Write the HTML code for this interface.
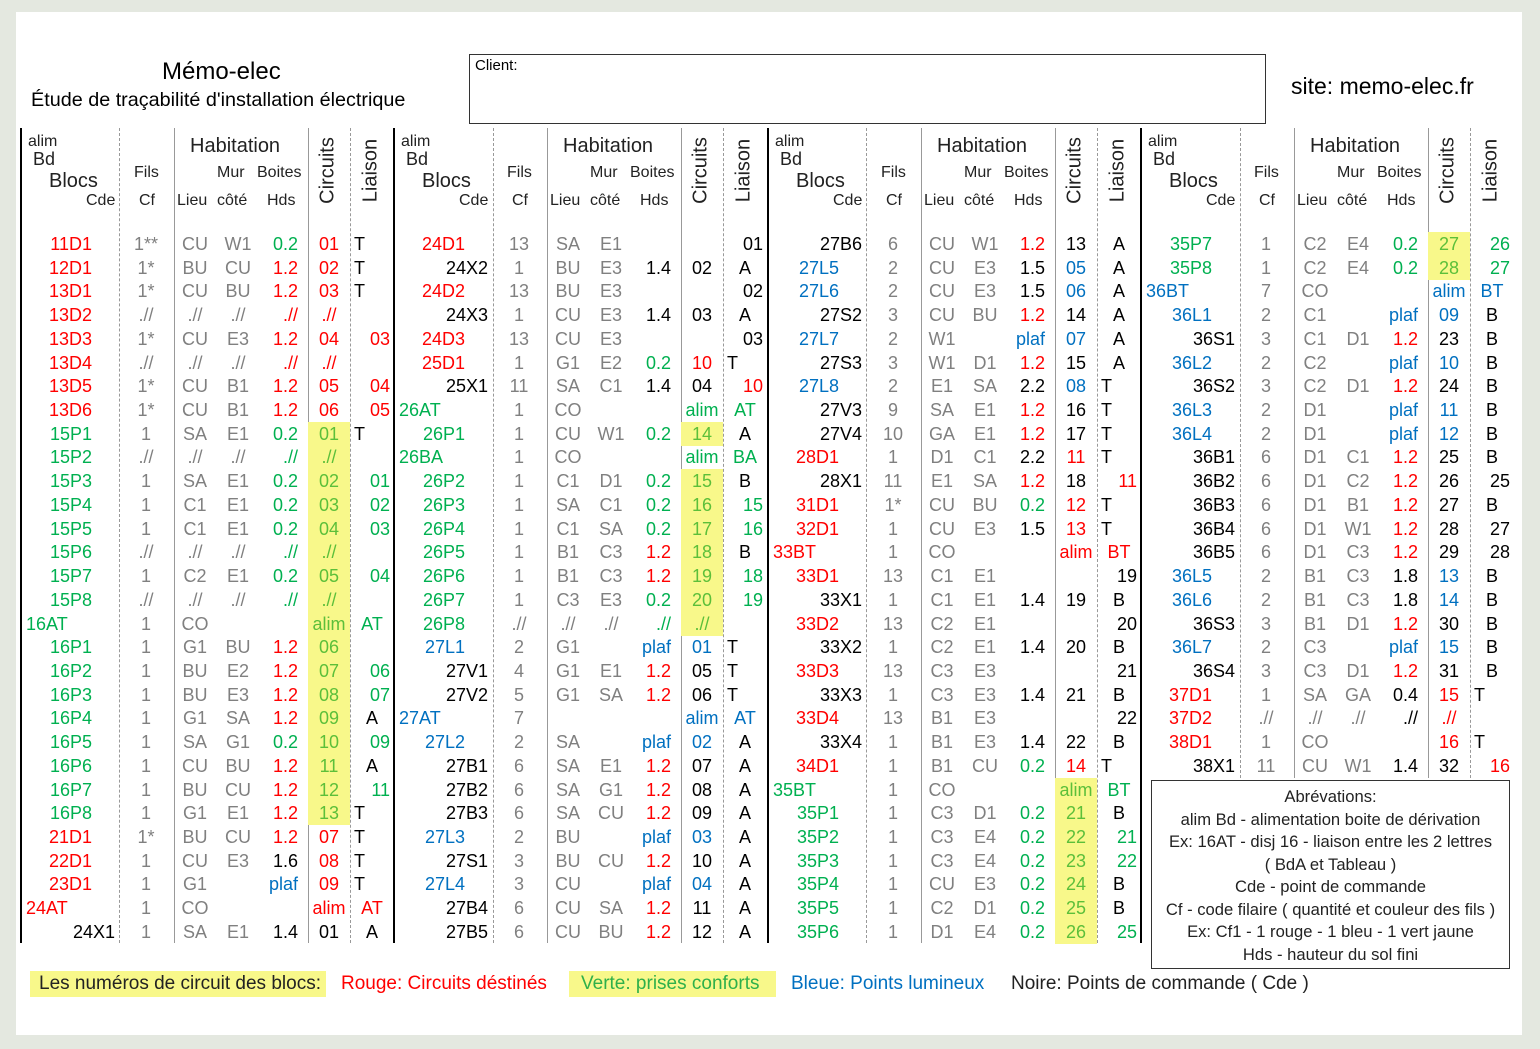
<!DOCTYPE html>
<html><head><meta charset="utf-8"><style>
*{margin:0;padding:0;box-sizing:border-box}
body{width:1540px;height:1049px;background:#e4e8e0;position:relative;overflow:hidden;font-family:"Liberation Sans",sans-serif;color:#000}
#pg{position:absolute;left:16px;top:12px;width:1506px;height:1023px;background:#fff}
.a{position:absolute;white-space:nowrap}
.vl{position:absolute;top:128px;height:815px;width:0}
.tk{border-left:2px solid #000}
.gs{border-left:1px solid #999}
.gd{border-left:1px dashed #999}
.grp{position:absolute;top:232px;width:373px}
.w{position:relative;height:23.72px;font-size:18px;line-height:24px}
.w i{font-style:normal;position:absolute;top:0;white-space:nowrap}
.b{left:0;width:95px;text-align:right}
.b.R,.b.G,.b.B{width:72px}
.bl{left:6px}
.f{left:106px;width:40px;text-align:center;color:#808080}
.l{left:155px;width:40px;text-align:center;color:#808080}
.m{left:198px;width:40px;text-align:center;color:#808080}
.h{left:238px;width:40px;text-align:right}
.c{left:288px;width:42px;text-align:center;height:24px}
.tl{left:334px}
.ta{left:340px;width:24px;text-align:center}
.tr{left:326px;width:44px;text-align:right}
.R{color:#ff0000}.G{color:#00b050}.B{color:#0070c0}
.y{background:#f8f88a}
.y.G{color:#5cbf3a}
.hd{position:absolute;white-space:nowrap;color:#222}
.rot{position:absolute;transform:rotate(-90deg);transform-origin:center;white-space:nowrap;font-size:20px;color:#222;width:80px;text-align:center}
</style></head><body>
<div id="pg"></div>
<div class="a" style="left:162px;top:58px;font-size:24px">Mémo-elec</div>
<div class="a" style="left:31px;top:89px;font-size:19.8px">Étude de traçabilité d'installation électrique</div>
<div class="a" style="left:469px;top:54px;width:797px;height:70px;border:1.5px solid #333"></div>
<div class="a" style="left:475px;top:57px;font-size:15px">Client:</div>
<div class="a" style="left:1291px;top:73px;font-size:23px">site: memo-elec.fr</div>

<div class="vl tk" style="left:20px"></div><div class="vl gd" style="left:119px"></div><div class="vl gs" style="left:174px"></div><div class="vl gs" style="left:308px"></div><div class="vl gd" style="left:350px"></div>
<div class="vl tk" style="left:393px"></div><div class="vl gd" style="left:493px"></div><div class="vl gs" style="left:547px"></div><div class="vl gs" style="left:681px"></div><div class="vl gd" style="left:723px"></div>
<div class="vl tk" style="left:767px"></div><div class="vl gd" style="left:866px"></div><div class="vl gs" style="left:921px"></div><div class="vl gs" style="left:1055px"></div><div class="vl gd" style="left:1097px"></div>
<div class="vl tk" style="left:1140px"></div><div class="vl gd" style="left:1240px;height:650px"></div><div class="vl gs" style="left:1294px;height:650px"></div><div class="vl gs" style="left:1428px;height:650px"></div><div class="vl gd" style="left:1470px;height:650px"></div>

<div style="position:absolute;left:20px;top:0">
<div class="hd" style="left:8px;top:133px;font-size:16px">alim</div><div class="hd" style="left:13px;top:149px;font-size:18px">Bd</div><div class="hd" style="left:29px;top:170px;font-size:20px">Blocs</div><div class="hd" style="left:66px;top:192px;font-size:16px">Cde</div>
<div class="hd" style="left:114px;top:164px;font-size:16px">Fils</div><div class="hd" style="left:119px;top:192px;font-size:16px">Cf</div>
<div class="hd" style="left:170px;top:135px;font-size:20px">Habitation</div>
<div class="hd" style="left:197px;top:164px;font-size:16px">Mur</div><div class="hd" style="left:237px;top:164px;font-size:16px">Boites</div>
<div class="hd" style="left:157px;top:192px;font-size:16px">Lieu</div><div class="hd" style="left:197px;top:192px;font-size:16px">côté</div><div class="hd" style="left:247px;top:192px;font-size:16px">Hds</div>
<div class="rot" style="left:268px;top:159px">Circuits</div><div class="rot" style="left:311px;top:159px">Liaison</div>
</div>
<div style="position:absolute;left:393px;top:0">
<div class="hd" style="left:8px;top:133px;font-size:16px">alim</div><div class="hd" style="left:13px;top:149px;font-size:18px">Bd</div><div class="hd" style="left:29px;top:170px;font-size:20px">Blocs</div><div class="hd" style="left:66px;top:192px;font-size:16px">Cde</div>
<div class="hd" style="left:114px;top:164px;font-size:16px">Fils</div><div class="hd" style="left:119px;top:192px;font-size:16px">Cf</div>
<div class="hd" style="left:170px;top:135px;font-size:20px">Habitation</div>
<div class="hd" style="left:197px;top:164px;font-size:16px">Mur</div><div class="hd" style="left:237px;top:164px;font-size:16px">Boites</div>
<div class="hd" style="left:157px;top:192px;font-size:16px">Lieu</div><div class="hd" style="left:197px;top:192px;font-size:16px">côté</div><div class="hd" style="left:247px;top:192px;font-size:16px">Hds</div>
<div class="rot" style="left:268px;top:159px">Circuits</div><div class="rot" style="left:311px;top:159px">Liaison</div>
</div>
<div style="position:absolute;left:767px;top:0">
<div class="hd" style="left:8px;top:133px;font-size:16px">alim</div><div class="hd" style="left:13px;top:149px;font-size:18px">Bd</div><div class="hd" style="left:29px;top:170px;font-size:20px">Blocs</div><div class="hd" style="left:66px;top:192px;font-size:16px">Cde</div>
<div class="hd" style="left:114px;top:164px;font-size:16px">Fils</div><div class="hd" style="left:119px;top:192px;font-size:16px">Cf</div>
<div class="hd" style="left:170px;top:135px;font-size:20px">Habitation</div>
<div class="hd" style="left:197px;top:164px;font-size:16px">Mur</div><div class="hd" style="left:237px;top:164px;font-size:16px">Boites</div>
<div class="hd" style="left:157px;top:192px;font-size:16px">Lieu</div><div class="hd" style="left:197px;top:192px;font-size:16px">côté</div><div class="hd" style="left:247px;top:192px;font-size:16px">Hds</div>
<div class="rot" style="left:268px;top:159px">Circuits</div><div class="rot" style="left:311px;top:159px">Liaison</div>
</div>
<div style="position:absolute;left:1140px;top:0">
<div class="hd" style="left:8px;top:133px;font-size:16px">alim</div><div class="hd" style="left:13px;top:149px;font-size:18px">Bd</div><div class="hd" style="left:29px;top:170px;font-size:20px">Blocs</div><div class="hd" style="left:66px;top:192px;font-size:16px">Cde</div>
<div class="hd" style="left:114px;top:164px;font-size:16px">Fils</div><div class="hd" style="left:119px;top:192px;font-size:16px">Cf</div>
<div class="hd" style="left:170px;top:135px;font-size:20px">Habitation</div>
<div class="hd" style="left:197px;top:164px;font-size:16px">Mur</div><div class="hd" style="left:237px;top:164px;font-size:16px">Boites</div>
<div class="hd" style="left:157px;top:192px;font-size:16px">Lieu</div><div class="hd" style="left:197px;top:192px;font-size:16px">côté</div><div class="hd" style="left:247px;top:192px;font-size:16px">Hds</div>
<div class="rot" style="left:268px;top:159px">Circuits</div><div class="rot" style="left:311px;top:159px">Liaison</div>
</div>

<div class="grp" style="left:20px">
<div class="w"><i class="b R">11D1</i><i class="f">1**</i><i class="l">CU</i><i class="m">W1</i><i class="h G">0.2</i><i class="c R">01</i><i class="tl">T</i></div>
<div class="w"><i class="b R">12D1</i><i class="f">1*</i><i class="l">BU</i><i class="m">CU</i><i class="h R">1.2</i><i class="c R">02</i><i class="tl">T</i></div>
<div class="w"><i class="b R">13D1</i><i class="f">1*</i><i class="l">CU</i><i class="m">BU</i><i class="h R">1.2</i><i class="c R">03</i><i class="tl">T</i></div>
<div class="w"><i class="b R">13D2</i><i class="f">.//</i><i class="l">.//</i><i class="m">.//</i><i class="h R">.//</i><i class="c R">.//</i></div>
<div class="w"><i class="b R">13D3</i><i class="f">1*</i><i class="l">CU</i><i class="m">E3</i><i class="h R">1.2</i><i class="c R">04</i><i class="tr R">03</i></div>
<div class="w"><i class="b R">13D4</i><i class="f">.//</i><i class="l">.//</i><i class="m">.//</i><i class="h R">.//</i><i class="c R">.//</i></div>
<div class="w"><i class="b R">13D5</i><i class="f">1*</i><i class="l">CU</i><i class="m">B1</i><i class="h R">1.2</i><i class="c R">05</i><i class="tr R">04</i></div>
<div class="w"><i class="b R">13D6</i><i class="f">1*</i><i class="l">CU</i><i class="m">B1</i><i class="h R">1.2</i><i class="c R">06</i><i class="tr R">05</i></div>
<div class="w"><i class="b G">15P1</i><i class="f">1</i><i class="l">SA</i><i class="m">E1</i><i class="h G">0.2</i><i class="c G y">01</i><i class="tl">T</i></div>
<div class="w"><i class="b G">15P2</i><i class="f">.//</i><i class="l">.//</i><i class="m">.//</i><i class="h G">.//</i><i class="c G y">.//</i></div>
<div class="w"><i class="b G">15P3</i><i class="f">1</i><i class="l">SA</i><i class="m">E1</i><i class="h G">0.2</i><i class="c G y">02</i><i class="tr G">01</i></div>
<div class="w"><i class="b G">15P4</i><i class="f">1</i><i class="l">C1</i><i class="m">E1</i><i class="h G">0.2</i><i class="c G y">03</i><i class="tr G">02</i></div>
<div class="w"><i class="b G">15P5</i><i class="f">1</i><i class="l">C1</i><i class="m">E1</i><i class="h G">0.2</i><i class="c G y">04</i><i class="tr G">03</i></div>
<div class="w"><i class="b G">15P6</i><i class="f">.//</i><i class="l">.//</i><i class="m">.//</i><i class="h G">.//</i><i class="c G y">.//</i></div>
<div class="w"><i class="b G">15P7</i><i class="f">1</i><i class="l">C2</i><i class="m">E1</i><i class="h G">0.2</i><i class="c G y">05</i><i class="tr G">04</i></div>
<div class="w"><i class="b G">15P8</i><i class="f">.//</i><i class="l">.//</i><i class="m">.//</i><i class="h G">.//</i><i class="c G y">.//</i></div>
<div class="w"><i class="bl G">16AT</i><i class="f">1</i><i class="l">CO</i><i class="c G y">alim</i><i class="ta G">AT</i></div>
<div class="w"><i class="b G">16P1</i><i class="f">1</i><i class="l">G1</i><i class="m">BU</i><i class="h R">1.2</i><i class="c G y">06</i></div>
<div class="w"><i class="b G">16P2</i><i class="f">1</i><i class="l">BU</i><i class="m">E2</i><i class="h R">1.2</i><i class="c G y">07</i><i class="tr G">06</i></div>
<div class="w"><i class="b G">16P3</i><i class="f">1</i><i class="l">BU</i><i class="m">E3</i><i class="h R">1.2</i><i class="c G y">08</i><i class="tr G">07</i></div>
<div class="w"><i class="b G">16P4</i><i class="f">1</i><i class="l">G1</i><i class="m">SA</i><i class="h R">1.2</i><i class="c G y">09</i><i class="ta">A</i></div>
<div class="w"><i class="b G">16P5</i><i class="f">1</i><i class="l">SA</i><i class="m">G1</i><i class="h G">0.2</i><i class="c G y">10</i><i class="tr G">09</i></div>
<div class="w"><i class="b G">16P6</i><i class="f">1</i><i class="l">CU</i><i class="m">BU</i><i class="h R">1.2</i><i class="c G y">11</i><i class="ta">A</i></div>
<div class="w"><i class="b G">16P7</i><i class="f">1</i><i class="l">BU</i><i class="m">CU</i><i class="h R">1.2</i><i class="c G y">12</i><i class="tr G">11</i></div>
<div class="w"><i class="b G">16P8</i><i class="f">1</i><i class="l">G1</i><i class="m">E1</i><i class="h R">1.2</i><i class="c G y">13</i><i class="tl">T</i></div>
<div class="w"><i class="b R">21D1</i><i class="f">1*</i><i class="l">BU</i><i class="m">CU</i><i class="h R">1.2</i><i class="c R">07</i><i class="tl">T</i></div>
<div class="w"><i class="b R">22D1</i><i class="f">1</i><i class="l">CU</i><i class="m">E3</i><i class="h">1.6</i><i class="c R">08</i><i class="tl">T</i></div>
<div class="w"><i class="b R">23D1</i><i class="f">1</i><i class="l">G1</i><i class="h B">plaf</i><i class="c R">09</i><i class="tl">T</i></div>
<div class="w"><i class="bl R">24AT</i><i class="f">1</i><i class="l">CO</i><i class="c R">alim</i><i class="ta R">AT</i></div>
<div class="w"><i class="b">24X1</i><i class="f">1</i><i class="l">SA</i><i class="m">E1</i><i class="h">1.4</i><i class="c">01</i><i class="ta">A</i></div>
</div>

<div class="grp" style="left:393px">
<div class="w"><i class="b R">24D1</i><i class="f">13</i><i class="l">SA</i><i class="m">E1</i><i class="tr">01</i></div>
<div class="w"><i class="b">24X2</i><i class="f">1</i><i class="l">BU</i><i class="m">E3</i><i class="h">1.4</i><i class="c">02</i><i class="ta">A</i></div>
<div class="w"><i class="b R">24D2</i><i class="f">13</i><i class="l">BU</i><i class="m">E3</i><i class="tr">02</i></div>
<div class="w"><i class="b">24X3</i><i class="f">1</i><i class="l">CU</i><i class="m">E3</i><i class="h">1.4</i><i class="c">03</i><i class="ta">A</i></div>
<div class="w"><i class="b R">24D3</i><i class="f">13</i><i class="l">CU</i><i class="m">E3</i><i class="tr">03</i></div>
<div class="w"><i class="b R">25D1</i><i class="f">1</i><i class="l">G1</i><i class="m">E2</i><i class="h G">0.2</i><i class="c R">10</i><i class="tl">T</i></div>
<div class="w"><i class="b">25X1</i><i class="f">11</i><i class="l">SA</i><i class="m">C1</i><i class="h">1.4</i><i class="c">04</i><i class="tr R">10</i></div>
<div class="w"><i class="bl G">26AT</i><i class="f">1</i><i class="l">CO</i><i class="c G">alim</i><i class="ta G">AT</i></div>
<div class="w"><i class="b G">26P1</i><i class="f">1</i><i class="l">CU</i><i class="m">W1</i><i class="h G">0.2</i><i class="c G y">14</i><i class="ta">A</i></div>
<div class="w"><i class="bl G">26BA</i><i class="f">1</i><i class="l">CO</i><i class="c G">alim</i><i class="ta G">BA</i></div>
<div class="w"><i class="b G">26P2</i><i class="f">1</i><i class="l">C1</i><i class="m">D1</i><i class="h G">0.2</i><i class="c G y">15</i><i class="ta">B</i></div>
<div class="w"><i class="b G">26P3</i><i class="f">1</i><i class="l">SA</i><i class="m">C1</i><i class="h G">0.2</i><i class="c G y">16</i><i class="tr G">15</i></div>
<div class="w"><i class="b G">26P4</i><i class="f">1</i><i class="l">C1</i><i class="m">SA</i><i class="h G">0.2</i><i class="c G y">17</i><i class="tr G">16</i></div>
<div class="w"><i class="b G">26P5</i><i class="f">1</i><i class="l">B1</i><i class="m">C3</i><i class="h R">1.2</i><i class="c G y">18</i><i class="ta">B</i></div>
<div class="w"><i class="b G">26P6</i><i class="f">1</i><i class="l">B1</i><i class="m">C3</i><i class="h R">1.2</i><i class="c G y">19</i><i class="tr G">18</i></div>
<div class="w"><i class="b G">26P7</i><i class="f">1</i><i class="l">C3</i><i class="m">E3</i><i class="h G">0.2</i><i class="c G y">20</i><i class="tr G">19</i></div>
<div class="w"><i class="b G">26P8</i><i class="f">.//</i><i class="l">.//</i><i class="m">.//</i><i class="h G">.//</i><i class="c G y">.//</i></div>
<div class="w"><i class="b B">27L1</i><i class="f">2</i><i class="l">G1</i><i class="h B">plaf</i><i class="c B">01</i><i class="tl">T</i></div>
<div class="w"><i class="b">27V1</i><i class="f">4</i><i class="l">G1</i><i class="m">E1</i><i class="h R">1.2</i><i class="c">05</i><i class="tl">T</i></div>
<div class="w"><i class="b">27V2</i><i class="f">5</i><i class="l">G1</i><i class="m">SA</i><i class="h R">1.2</i><i class="c">06</i><i class="tl">T</i></div>
<div class="w"><i class="bl B">27AT</i><i class="f">7</i><i class="c B">alim</i><i class="ta B">AT</i></div>
<div class="w"><i class="b B">27L2</i><i class="f">2</i><i class="l">SA</i><i class="h B">plaf</i><i class="c B">02</i><i class="ta">A</i></div>
<div class="w"><i class="b">27B1</i><i class="f">6</i><i class="l">SA</i><i class="m">E1</i><i class="h R">1.2</i><i class="c">07</i><i class="ta">A</i></div>
<div class="w"><i class="b">27B2</i><i class="f">6</i><i class="l">SA</i><i class="m">G1</i><i class="h R">1.2</i><i class="c">08</i><i class="ta">A</i></div>
<div class="w"><i class="b">27B3</i><i class="f">6</i><i class="l">SA</i><i class="m">CU</i><i class="h R">1.2</i><i class="c">09</i><i class="ta">A</i></div>
<div class="w"><i class="b B">27L3</i><i class="f">2</i><i class="l">BU</i><i class="h B">plaf</i><i class="c B">03</i><i class="ta">A</i></div>
<div class="w"><i class="b">27S1</i><i class="f">3</i><i class="l">BU</i><i class="m">CU</i><i class="h R">1.2</i><i class="c">10</i><i class="ta">A</i></div>
<div class="w"><i class="b B">27L4</i><i class="f">3</i><i class="l">CU</i><i class="h B">plaf</i><i class="c B">04</i><i class="ta">A</i></div>
<div class="w"><i class="b">27B4</i><i class="f">6</i><i class="l">CU</i><i class="m">SA</i><i class="h R">1.2</i><i class="c">11</i><i class="ta">A</i></div>
<div class="w"><i class="b">27B5</i><i class="f">6</i><i class="l">CU</i><i class="m">BU</i><i class="h R">1.2</i><i class="c">12</i><i class="ta">A</i></div>
</div>

<div class="grp" style="left:767px">
<div class="w"><i class="b">27B6</i><i class="f">6</i><i class="l">CU</i><i class="m">W1</i><i class="h R">1.2</i><i class="c">13</i><i class="ta">A</i></div>
<div class="w"><i class="b B">27L5</i><i class="f">2</i><i class="l">CU</i><i class="m">E3</i><i class="h">1.5</i><i class="c B">05</i><i class="ta">A</i></div>
<div class="w"><i class="b B">27L6</i><i class="f">2</i><i class="l">CU</i><i class="m">E3</i><i class="h">1.5</i><i class="c B">06</i><i class="ta">A</i></div>
<div class="w"><i class="b">27S2</i><i class="f">3</i><i class="l">CU</i><i class="m">BU</i><i class="h R">1.2</i><i class="c">14</i><i class="ta">A</i></div>
<div class="w"><i class="b B">27L7</i><i class="f">2</i><i class="l">W1</i><i class="h B">plaf</i><i class="c B">07</i><i class="ta">A</i></div>
<div class="w"><i class="b">27S3</i><i class="f">3</i><i class="l">W1</i><i class="m">D1</i><i class="h R">1.2</i><i class="c">15</i><i class="ta">A</i></div>
<div class="w"><i class="b B">27L8</i><i class="f">2</i><i class="l">E1</i><i class="m">SA</i><i class="h">2.2</i><i class="c B">08</i><i class="tl">T</i></div>
<div class="w"><i class="b">27V3</i><i class="f">9</i><i class="l">SA</i><i class="m">E1</i><i class="h R">1.2</i><i class="c">16</i><i class="tl">T</i></div>
<div class="w"><i class="b">27V4</i><i class="f">10</i><i class="l">GA</i><i class="m">E1</i><i class="h R">1.2</i><i class="c">17</i><i class="tl">T</i></div>
<div class="w"><i class="b R">28D1</i><i class="f">1</i><i class="l">D1</i><i class="m">C1</i><i class="h">2.2</i><i class="c R">11</i><i class="tl">T</i></div>
<div class="w"><i class="b">28X1</i><i class="f">11</i><i class="l">E1</i><i class="m">SA</i><i class="h R">1.2</i><i class="c">18</i><i class="tr R">11</i></div>
<div class="w"><i class="b R">31D1</i><i class="f">1*</i><i class="l">CU</i><i class="m">BU</i><i class="h G">0.2</i><i class="c R">12</i><i class="tl">T</i></div>
<div class="w"><i class="b R">32D1</i><i class="f">1</i><i class="l">CU</i><i class="m">E3</i><i class="h">1.5</i><i class="c R">13</i><i class="tl">T</i></div>
<div class="w"><i class="bl R">33BT</i><i class="f">1</i><i class="l">CO</i><i class="c R">alim</i><i class="ta R">BT</i></div>
<div class="w"><i class="b R">33D1</i><i class="f">13</i><i class="l">C1</i><i class="m">E1</i><i class="tr">19</i></div>
<div class="w"><i class="b">33X1</i><i class="f">1</i><i class="l">C1</i><i class="m">E1</i><i class="h">1.4</i><i class="c">19</i><i class="ta">B</i></div>
<div class="w"><i class="b R">33D2</i><i class="f">13</i><i class="l">C2</i><i class="m">E1</i><i class="tr">20</i></div>
<div class="w"><i class="b">33X2</i><i class="f">1</i><i class="l">C2</i><i class="m">E1</i><i class="h">1.4</i><i class="c">20</i><i class="ta">B</i></div>
<div class="w"><i class="b R">33D3</i><i class="f">13</i><i class="l">C3</i><i class="m">E3</i><i class="tr">21</i></div>
<div class="w"><i class="b">33X3</i><i class="f">1</i><i class="l">C3</i><i class="m">E3</i><i class="h">1.4</i><i class="c">21</i><i class="ta">B</i></div>
<div class="w"><i class="b R">33D4</i><i class="f">13</i><i class="l">B1</i><i class="m">E3</i><i class="tr">22</i></div>
<div class="w"><i class="b">33X4</i><i class="f">1</i><i class="l">B1</i><i class="m">E3</i><i class="h">1.4</i><i class="c">22</i><i class="ta">B</i></div>
<div class="w"><i class="b R">34D1</i><i class="f">1</i><i class="l">B1</i><i class="m">CU</i><i class="h G">0.2</i><i class="c R">14</i><i class="tl">T</i></div>
<div class="w"><i class="bl G">35BT</i><i class="f">1</i><i class="l">CO</i><i class="c G y">alim</i><i class="ta G">BT</i></div>
<div class="w"><i class="b G">35P1</i><i class="f">1</i><i class="l">C3</i><i class="m">D1</i><i class="h G">0.2</i><i class="c G y">21</i><i class="ta">B</i></div>
<div class="w"><i class="b G">35P2</i><i class="f">1</i><i class="l">C3</i><i class="m">E4</i><i class="h G">0.2</i><i class="c G y">22</i><i class="tr G">21</i></div>
<div class="w"><i class="b G">35P3</i><i class="f">1</i><i class="l">C3</i><i class="m">E4</i><i class="h G">0.2</i><i class="c G y">23</i><i class="tr G">22</i></div>
<div class="w"><i class="b G">35P4</i><i class="f">1</i><i class="l">CU</i><i class="m">E3</i><i class="h G">0.2</i><i class="c G y">24</i><i class="ta">B</i></div>
<div class="w"><i class="b G">35P5</i><i class="f">1</i><i class="l">C2</i><i class="m">D1</i><i class="h G">0.2</i><i class="c G y">25</i><i class="ta">B</i></div>
<div class="w"><i class="b G">35P6</i><i class="f">1</i><i class="l">D1</i><i class="m">E4</i><i class="h G">0.2</i><i class="c G y">26</i><i class="tr G">25</i></div>
</div>

<div class="grp" style="left:1140px">
<div class="w"><i class="b G">35P7</i><i class="f">1</i><i class="l">C2</i><i class="m">E4</i><i class="h G">0.2</i><i class="c G y">27</i><i class="tr G">26</i></div>
<div class="w"><i class="b G">35P8</i><i class="f">1</i><i class="l">C2</i><i class="m">E4</i><i class="h G">0.2</i><i class="c G y">28</i><i class="tr G">27</i></div>
<div class="w"><i class="bl B">36BT</i><i class="f">7</i><i class="l">CO</i><i class="c B">alim</i><i class="ta B">BT</i></div>
<div class="w"><i class="b B">36L1</i><i class="f">2</i><i class="l">C1</i><i class="h B">plaf</i><i class="c B">09</i><i class="ta">B</i></div>
<div class="w"><i class="b">36S1</i><i class="f">3</i><i class="l">C1</i><i class="m">D1</i><i class="h R">1.2</i><i class="c">23</i><i class="ta">B</i></div>
<div class="w"><i class="b B">36L2</i><i class="f">2</i><i class="l">C2</i><i class="h B">plaf</i><i class="c B">10</i><i class="ta">B</i></div>
<div class="w"><i class="b">36S2</i><i class="f">3</i><i class="l">C2</i><i class="m">D1</i><i class="h R">1.2</i><i class="c">24</i><i class="ta">B</i></div>
<div class="w"><i class="b B">36L3</i><i class="f">2</i><i class="l">D1</i><i class="h B">plaf</i><i class="c B">11</i><i class="ta">B</i></div>
<div class="w"><i class="b B">36L4</i><i class="f">2</i><i class="l">D1</i><i class="h B">plaf</i><i class="c B">12</i><i class="ta">B</i></div>
<div class="w"><i class="b">36B1</i><i class="f">6</i><i class="l">D1</i><i class="m">C1</i><i class="h R">1.2</i><i class="c">25</i><i class="ta">B</i></div>
<div class="w"><i class="b">36B2</i><i class="f">6</i><i class="l">D1</i><i class="m">C2</i><i class="h R">1.2</i><i class="c">26</i><i class="tr">25</i></div>
<div class="w"><i class="b">36B3</i><i class="f">6</i><i class="l">D1</i><i class="m">B1</i><i class="h R">1.2</i><i class="c">27</i><i class="ta">B</i></div>
<div class="w"><i class="b">36B4</i><i class="f">6</i><i class="l">D1</i><i class="m">W1</i><i class="h R">1.2</i><i class="c">28</i><i class="tr">27</i></div>
<div class="w"><i class="b">36B5</i><i class="f">6</i><i class="l">D1</i><i class="m">C3</i><i class="h R">1.2</i><i class="c">29</i><i class="tr">28</i></div>
<div class="w"><i class="b B">36L5</i><i class="f">2</i><i class="l">B1</i><i class="m">C3</i><i class="h">1.8</i><i class="c B">13</i><i class="ta">B</i></div>
<div class="w"><i class="b B">36L6</i><i class="f">2</i><i class="l">B1</i><i class="m">C3</i><i class="h">1.8</i><i class="c B">14</i><i class="ta">B</i></div>
<div class="w"><i class="b">36S3</i><i class="f">3</i><i class="l">B1</i><i class="m">D1</i><i class="h R">1.2</i><i class="c">30</i><i class="ta">B</i></div>
<div class="w"><i class="b B">36L7</i><i class="f">2</i><i class="l">C3</i><i class="h B">plaf</i><i class="c B">15</i><i class="ta">B</i></div>
<div class="w"><i class="b">36S4</i><i class="f">3</i><i class="l">C3</i><i class="m">D1</i><i class="h R">1.2</i><i class="c">31</i><i class="ta">B</i></div>
<div class="w"><i class="b R">37D1</i><i class="f">1</i><i class="l">SA</i><i class="m">GA</i><i class="h">0.4</i><i class="c R">15</i><i class="tl">T</i></div>
<div class="w"><i class="b R">37D2</i><i class="f">.//</i><i class="l">.//</i><i class="m">.//</i><i class="h">.//</i><i class="c R">.//</i></div>
<div class="w"><i class="b R">38D1</i><i class="f">1</i><i class="l">CO</i><i class="c R">16</i><i class="tl">T</i></div>
<div class="w"><i class="b">38X1</i><i class="f">11</i><i class="l">CU</i><i class="m">W1</i><i class="h">1.4</i><i class="c">32</i><i class="tr R">16</i></div>
</div>

<div class="a" style="left:1151px;top:780px;width:359px;height:189px;border:1.5px solid #333;background:#fff;text-align:center;font-size:16.6px;line-height:22.5px;padding-top:5px;color:#222">
Abrévations:<br>alim Bd - alimentation boite de dérivation<br>Ex: 16AT - disj 16 - liaison entre les 2 lettres<br>( BdA et Tableau )<br>Cde - point de commande<br>Cf - code filaire ( quantité et couleur des fils )<br>Ex: Cf1 - 1 rouge - 1 bleu - 1 vert jaune<br>Hds - hauteur du sol fini
</div>

<div class="a" style="left:30px;top:971px;width:296px;height:26px;background:#f8f88a;font-size:19px;line-height:26px;padding-left:9px;color:#222">Les numéros de circuit des blocs:</div>
<div class="a" style="left:341px;top:971px;font-size:19px;line-height:26px;color:#ff0000">Rouge: Circuits déstinés</div>
<div class="a" style="left:569px;top:971px;width:207px;height:26px;background:#f8f88a;font-size:19px;line-height:26px;padding-left:12px;color:#2fb04a">Verte: prises conforts</div>
<div class="a" style="left:791px;top:971px;font-size:19px;line-height:26px;color:#0070c0">Bleue: Points lumineux</div>
<div class="a" style="left:1011px;top:971px;font-size:19px;line-height:26px;color:#222">Noire: Points de commande ( Cde )</div>
</body></html>
